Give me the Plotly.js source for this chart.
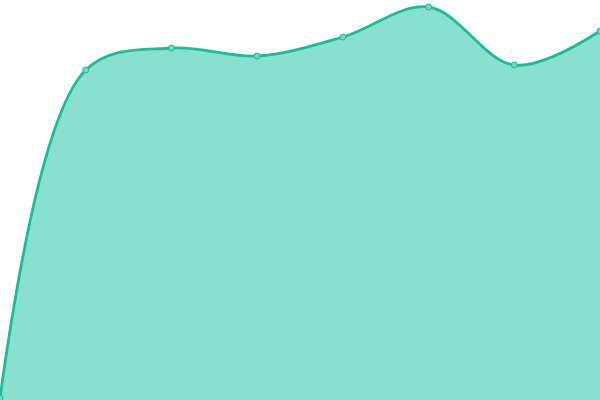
<!DOCTYPE html>
<html>
<head>
<meta charset="utf-8">
<script src="https://cdn.plot.ly/plotly-3.0.1.min.js"></script>
<style>
  html, body { margin: 0; padding: 0; background: #fff; }
  #chart { width: 600px; height: 400px; }
</style>
</head>
<body>
<div id="chart"></div>
<script>
// values (range 0..400)
const xs = [0, 1, 2, 3, 4, 5, 6, 7];
const values = [2, 330, 352, 344, 363, 393, 335, 369];

const trace = {
  x: xs,
  y: values,
  type: "scatter",
  mode: "lines+markers",
  fill: "tozeroy",
  fillcolor: "#89e0cf",
  line: { color: "#1abc9c", width: 2.8, shape: "spline", smoothing: 1 },
  marker: { size: 6, color: "#72d8c2", line: { color: "#1abc9c", width: 1 } },
  cliponaxis: false,
  hoverinfo: "none"
};

const layout = {
  width: 600,
  height: 400,
  margin: { l: 0, r: 0, t: 0, b: 0 },
  paper_bgcolor: "#fff",
  plot_bgcolor: "#fff",
  showlegend: false,
  xaxis: { range: [0, 7], visible: false, fixedrange: true },
  yaxis: { range: [0, 400], visible: false, fixedrange: true }
};

Plotly.newPlot("chart", [trace], layout, { staticPlot: true });
</script>
</body>
</html>
